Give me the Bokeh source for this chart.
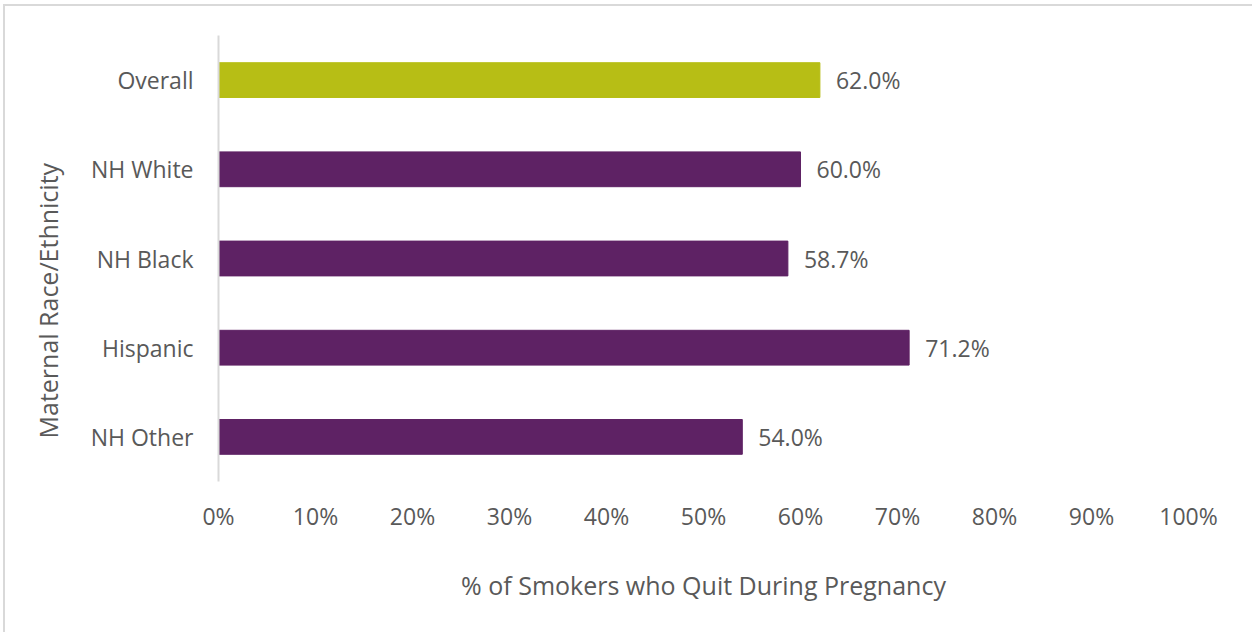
from bokeh.plotting import figure
from bokeh.models import ColumnDataSource, FactorRange, FixedTicker, CustomJSTickFormatter, Title
from bokeh.core.properties import value
from bokeh.embed import file_html
from bokeh.resources import INLINE

categories = ["Overall", "NH White", "NH Black", "Hispanic", "NH Other"]
pct_quit = [62.0, 60.0, 58.7, 71.2, 54.0]
bar_colors = ["#B7BE15", "#5E2264", "#5E2264", "#5E2264", "#5E2264"]
x_ticks = [0, 10, 20, 30, 40, 50, 60, 70, 80, 90, 100]
x_title = "% of Smokers who Quit During Pregnancy"
y_title = "Maternal Race/Ethnicity"

FONT = "Open Sans"
TXT = "#595959"

src = ColumnDataSource(dict(
    cat=categories,
    val=pct_quit,
    color=bar_colors,
    label=[f"{v:.1f}%" for v in pct_quit],
))

p = figure(
    width=1249, height=628,
    y_range=FactorRange(*reversed(categories)),
    x_range=(0, 100),
    output_backend="svg", toolbar_location=None,
    min_border_left=213, min_border_right=66, min_border_top=29, min_border_bottom=153,
)
p.styles = {"border-left": "2px solid #d9d9d9", "border-top": "2px solid #d9d9d9",
            "margin-left": "3px", "margin-top": "4px"}

p.hbar(y="cat", right="val", left=0, height=0.39, color="color", source=src)
p.text(x="val", y="cat", text="label", source=src, x_offset=16,
       text_baseline="middle", text_align="left",
       text_font=value(FONT), text_font_size="23px", text_color=TXT)

p.outline_line_color = None
p.grid.grid_line_color = None
p.background_fill_color = "white"
p.border_fill_color = "white"

xa = p.xaxis[0]
xa.ticker = FixedTicker(ticks=x_ticks)
xa.formatter = CustomJSTickFormatter(code="return tick.toFixed(0) + '%';")
xa.axis_line_color = None
xa.major_tick_line_color = None
xa.minor_tick_line_color = None
xa.major_label_standoff = 12
xa.major_label_text_font = FONT
xa.major_label_text_font_size = "23px"
xa.major_label_text_color = TXT

ya = p.yaxis[0]
ya.axis_line_color = "#d9d9d9"
ya.axis_line_width = 2
ya.major_tick_line_color = None
ya.minor_tick_line_color = None
ya.major_label_standoff = 19
ya.major_label_text_font = FONT
ya.major_label_text_font_size = "23px"
ya.major_label_text_color = TXT

p.add_layout(Title(text=x_title, align="center", standoff=62,
                   text_font=FONT, text_font_size="25px", text_font_style="normal",
                   text_color=TXT), "below")
p.add_layout(Title(text=y_title, align="left", vertical_align="top", standoff=42, offset=43,
                   text_font=FONT, text_font_size="25px", text_font_style="normal",
                   text_color=TXT), "left")

open("out.html", "w").write(file_html(p, INLINE))
